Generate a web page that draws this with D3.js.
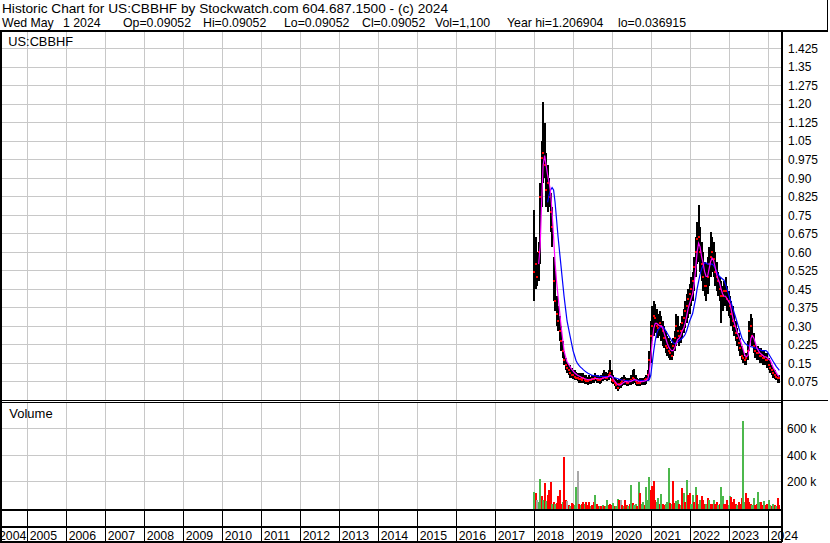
<!DOCTYPE html>
<html><head><meta charset="utf-8">
<script src="https://cdn.jsdelivr.net/npm/d3@7"></script>
<style>
html,body{margin:0;padding:0;background:#fff;}
svg{display:block;font-family:"Liberation Sans",Arial,sans-serif;}
text{white-space:pre;}
</style></head><body>
<svg id="c" width="830" height="543"></svg>
<script>
// ---------------- data ----------------
const symbol = "US:CBBHF";
const titleLine = "Historic Chart for US:CBBHF by Stockwatch.com 604.687.1500 - (c) 2024";
const infoParts = ["Wed May", "1 2024", "Op=0.09052", "Hi=0.09052", "Lo=0.09052", "Cl=0.09052", "Vol=1,100", "Year hi=1.206904", "lo=0.036915"];
const startDate = "2018-01-05";   // first bi-weekly sample
const stepDays = 14;
const high = [
 .77,.66,.60,.64,.88,1.05,1.207,1.12,1.00,.95,
 .90,.84,.78,.58,.54,.42,.38,.34,.30,.24,
 .20,.17,.15,.14,.14,.13,.12,.12,.115,.11,
 .11,.11,.10,.11,.10,.10,.095,.10,.095,.10,
 .10,.11,.10,.10,.095,.10,.11,.12,.115,.11,
 .12,.16,.12,.10,.09,.085,.08,.085,.09,.095,
 .10,.095,.09,.09,.09,.10,.12,.125,.10,.09,
 .085,.09,.09,.09,.095,.10,.12,.20,.32,.38,
 .40,.39,.37,.35,.36,.34,.32,.30,.28,.26,
 .25,.24,.23,.25,.28,.35,.34,.30,.31,.34,
 .37,.40,.43,.45,.47,.50,.52,.58,.66,.72,
 .79,.70,.64,.60,.56,.55,.58,.62,.68,.66,
 .64,.60,.56,.52,.50,.48,.46,.48,.50,.46,
 .44,.42,.40,.38,.35,.32,.29,.27,.25,.22,
 .20,.18,.19,.24,.32,.35,.33,.27,.23,.22,
 .22,.21,.21,.20,.20,.19,.19,.17,.16,.14,
 .13,.12,.11,.10,.10];
const low = [
 .40,.45,.46,.48,.55,.78,.88,.90,.78,.76,
 .78,.68,.62,.40,.36,.30,.28,.24,.20,.17,
 .14,.12,.11,.10,.09,.09,.085,.08,.08,.075,
 .07,.07,.07,.07,.065,.065,.06,.065,.065,.07,
 .07,.075,.07,.07,.065,.07,.075,.08,.08,.075,
 .08,.09,.07,.065,.055,.045,.037,.045,.05,.055,
 .06,.06,.055,.055,.06,.06,.065,.07,.06,.055,
 .055,.055,.06,.06,.06,.065,.075,.09,.15,.24,
 .26,.27,.25,.25,.26,.24,.22,.21,.19,.18,
 .17,.16,.16,.18,.20,.22,.24,.22,.23,.25,
 .27,.29,.31,.33,.35,.38,.40,.44,.50,.55,
 .56,.52,.48,.44,.42,.40,.43,.46,.50,.52,
 .50,.46,.44,.42,.40,.31,.36,.38,.38,.36,
 .34,.33,.30,.28,.26,.24,.22,.20,.18,.16,
 .15,.14,.14,.16,.20,.24,.22,.19,.17,.16,
 .16,.15,.15,.14,.14,.14,.13,.12,.11,.10,
 .09,.085,.08,.07,.07];
const close = [
 .52,.55,.50,.60,.82,.98,1.00,.95,.85,.88,
 .82,.76,.70,.48,.40,.35,.32,.28,.24,.20,
 .16,.14,.13,.12,.11,.10,.10,.095,.09,.09,
 .085,.085,.08,.09,.08,.075,.075,.08,.08,.085,
 .085,.09,.085,.08,.08,.085,.09,.095,.09,.09,
 .10,.11,.08,.075,.07,.06,.05,.065,.07,.075,
 .08,.075,.07,.07,.075,.08,.09,.085,.075,.07,
 .07,.07,.075,.075,.08,.085,.10,.16,.26,.30,
 .34,.33,.30,.29,.31,.30,.28,.25,.22,.21,
 .20,.19,.18,.22,.25,.30,.28,.26,.28,.31,
 .33,.36,.38,.41,.43,.45,.48,.54,.60,.65,
 .66,.60,.55,.50,.46,.46,.50,.55,.58,.60,
 .57,.52,.50,.48,.45,.42,.42,.44,.44,.41,
 .40,.38,.35,.32,.30,.27,.25,.23,.21,.18,
 .17,.16,.17,.20,.28,.30,.26,.22,.20,.19,
 .19,.18,.18,.17,.17,.16,.16,.14,.13,.12,
 .11,.10,.095,.09,.09];
const maShort = [
 null,null,null,.55,.62,.80,.95,.99,.95,.91,
 .88,.84,.76,.66,.555,.48,.42,.36,.30,.25,
 .20,.175,.155,.145,.135,.125,.118,.11,.105,.10,
 .097,.094,.09,.088,.086,.084,.082,.082,.083,.085,
 .086,.087,.087,.086,.085,.086,.088,.09,.092,.093,
 .096,.10,.095,.085,.075,.068,.062,.06,.062,.068,
 .072,.074,.074,.073,.074,.076,.08,.083,.082,.078,
 .075,.074,.074,.075,.077,.08,.085,.11,.17,.24,
 .29,.31,.31,.305,.30,.30,.29,.27,.25,.23,
 .215,.205,.20,.20,.21,.23,.245,.25,.26,.28,
 .29,.31,.34,.37,.39,.41,.43,.47,.53,.60,
 .635,.62,.58,.555,.52,.50,.50,.53,.56,.575,
 .565,.54,.51,.49,.475,.45,.43,.42,.42,.41,
 .40,.39,.36,.33,.31,.29,.27,.255,.24,.22,
 .20,.18,.175,.18,.21,.25,.26,.25,.23,.21,
 .20,.19,.185,.18,.175,.175,.17,.165,.16,.145,
 .13,.12,.11,.10,.095];
const maLong = [
 null,null,null,null,null,null,null,null,null,.80,
 .83,.85,.86,.85,.80,.73,.66,.60,.54,.48,
 .42,.37,.32,.29,.26,.23,.20,.18,.16,.148,
 .14,.133,.128,.122,.117,.112,.108,.105,.102,.10,
 .099,.098,.097,.097,.096,.096,.095,.095,.095,.095,
 .095,.095,.094,.092,.09,.088,.086,.084,.082,.081,
 .08,.079,.078,.078,.078,.078,.079,.08,.08,.08,
 .08,.08,.079,.078,.078,.078,.079,.082,.10,.15,
 .20,.24,.27,.285,.293,.297,.297,.29,.28,.27,
 .26,.25,.24,.232,.228,.23,.235,.24,.245,.25,
 .257,.265,.28,.30,.32,.335,.35,.38,.41,.45,
 .48,.51,.53,.545,.555,.555,.55,.55,.55,.55,
 .545,.535,.52,.51,.50,.495,.49,.485,.47,.45,
 .43,.41,.39,.37,.35,.33,.31,.29,.27,.25,
 .24,.23,.225,.22,.218,.216,.215,.212,.21,.21,
 .205,.205,.20,.20,.20,.20,.195,.185,.175,.165,
 .155,.145,.135,.128,.12];
const volume = [ // shares, thousands
 120,107,60,40,213,90,60,183,50,95,
 133,195,30,44,25,35,87,133,30,42,
 385,57,46,20,15,36,30,20,158,276,
 30,19,25,45,30,45,20,45,15,20,
 40,95,25,15,10,15,20,10,15,57,
 20,25,20,36,15,10,63,57,57,20,
 15,57,20,15,30,170,35,20,25,15,
 195,107,30,40,20,158,60,233,130,163,
 203,57,40,75,30,102,25,20,30,40,
 301,35,25,203,35,50,58,30,20,150,
 107,40,208,95,110,30,95,40,158,95,
 30,57,87,60,30,25,70,60,30,25,
 58,30,40,20,30,158,87,30,25,60,
 20,87,80,40,65,30,20,40,25,70,
 658,45,107,70,40,30,20,70,20,30,
 115,40,45,20,50,20,25,55,20,15,
 25,20,15,70,20];
const volChange = [ // +1 up, -1 down, 0 unchanged
 1,-1,0,1,1,-1,1,-1,1,-1,
 -1,-1,1,-1,1,-1,-1,-1,-1,1,
 -1,-1,0,-1,1,-1,-1,1,1,0,
 -1,1,-1,-1,1,-1,-1,-1,1,-1,
 -1,1,-1,-1,1,-1,1,-1,1,1,
 -1,-1,-1,1,-1,1,1,-1,0,-1,
 1,-1,-1,1,-1,1,-1,1,1,-1,
 1,-1,1,1,-1,1,1,1,-1,-1,
 -1,-1,1,1,-1,1,-1,-1,1,1,
 1,-1,1,-1,-1,1,1,-1,1,-1,
 1,-1,1,-1,-1,1,1,-1,1,-1,
 1,1,-1,-1,-1,1,-1,1,-1,-1,
 1,-1,-1,1,-1,1,1,-1,-1,-1,
 1,1,-1,-1,-1,-1,1,-1,-1,-1,
 1,1,-1,-1,-1,-1,1,1,-1,-1,
 1,1,-1,-1,1,-1,-1,1,1,-1,
 1,-1,1,-1,-1];
const yearLabels = ["2004","2005","2006","2007","2008","2009","2010","2011","2012","2013","2014","2015","2016","2017","2018","2019","2020","2021","2022","2023","2024"];
const priceTicks = [0.075,0.15,0.225,0.30,0.375,0.45,0.525,0.60,0.675,0.75,0.825,0.90,0.975,1.05,1.125,1.20,1.275,1.35,1.425];
const priceTickLabels = ["0.075","0.15","0.225","0.30","0.375","0.45","0.525","0.60","0.675","0.75","0.825","0.90","0.975","1.05","1.125","1.20","1.275","1.35","1.425"];
const volTicks = [200000,400000,600000];
const volTickLabels = ["200 k","400 k","600 k"];

// ---------------- layout ----------------
const svg = d3.select("#c");
const L = 2, R = 782, priceTop = 31, priceBot = 400, volTop = 402, volBase = 507.5, volBot = 509.5;
const axRow1 = 527, axBot = 542;
const parse = d3.timeParse("%Y-%m-%d");
const t0 = parse(startDate);
const dates = close.map((_, i) => d3.timeDay.offset(t0, i * stepDays));

const x = d3.scaleTime().domain([new Date(2005,0,1), new Date(2024,0,1)]).range([26.7, 767.7]);
const y = d3.scaleLinear().domain([0, (priceBot - priceTop) / 247]).range([priceBot, priceTop]);
const yv = d3.scaleLinear().domain([0, 800000]).range([volBase, volBase - 4 * 26.4]);

const gridC = "#c8c8c8";
const yearDates = yearLabels.map(s => new Date(+s, 0, 1));

// fit text: width as if size wSize, glyph height of size hSize
function fit(sel, wSize, hSize) {
  sel.each(function() {
    const t = d3.select(this);
    t.attr("font-size", wSize);
    const w = this.getComputedTextLength();
    t.attr("font-size", hSize).attr("textLength", w).attr("lengthAdjust", "spacingAndGlyphs");
  });
}

// grids
const gP = svg.append("g").attr("shape-rendering", "crispEdges");
gP.selectAll("line.hy").data(priceTicks).join("line")
  .attr("x1", L).attr("x2", R).attr("y1", d => Math.round(y(d)) + 0.5).attr("y2", d => Math.round(y(d)) + 0.5)
  .attr("stroke", gridC);
gP.selectAll("line.vx").data(yearDates.filter(d => x(d) > L)).join("line")
  .attr("x1", d => Math.round(x(d)) + 0.5).attr("x2", d => Math.round(x(d)) + 0.5)
  .attr("y1", priceTop).attr("y2", priceBot).attr("stroke", gridC);
const gV = svg.append("g").attr("shape-rendering", "crispEdges");
gV.selectAll("line.hy").data(volTicks).join("line")
  .attr("x1", L).attr("x2", R).attr("y1", d => Math.round(yv(d)) + 0.5).attr("y2", d => Math.round(yv(d)) + 0.5)
  .attr("stroke", gridC);
gV.selectAll("line.vx").data(yearDates.filter(d => x(d) > L)).join("line")
  .attr("x1", d => Math.round(x(d)) + 0.5).attr("x2", d => Math.round(x(d)) + 0.5)
  .attr("y1", volTop).attr("y2", volBot).attr("stroke", gridC);

// price bars
const bars = svg.append("g").attr("shape-rendering", "crispEdges");
bars.selectAll("rect").data(dates).join("rect")
  .attr("x", d => Math.round(x(d)) - 1).attr("width", 2)
  .attr("y", (d, i) => y(high[i])).attr("height", (d, i) => Math.max(1, y(low[i]) - y(high[i])))
  .attr("fill", "#000");
const closes = svg.append("g").attr("shape-rendering", "crispEdges");
closes.selectAll("rect").data(dates).join("rect")
  .attr("x", d => Math.round(x(d)) - 1).attr("width", 2)
  .attr("y", (d, i) => Math.round(y(close[i])) - 1).attr("height", 2)
  .attr("fill", "#ff0000");

const lineGen = arr => d3.line().defined((d, i) => arr[i] != null).x(d => x(d)).y((d, i) => y(arr[i]));
svg.append("path").attr("d", lineGen(maLong)(dates)).attr("fill", "none").attr("stroke", "#0000ff").attr("stroke-width", 1.2);
svg.append("path").attr("d", lineGen(maShort)(dates)).attr("fill", "none").attr("stroke", "#ff00ff").attr("stroke-width", 1.2);

// volume bars
const vcol = c => c > 0 ? "#4cb84c" : (c < 0 ? "#ff0000" : "#a8a8a8");
svg.append("g").attr("shape-rendering", "crispEdges").selectAll("rect").data(dates).join("rect")
  .attr("x", d => Math.round(x(d)) - 1).attr("width", 2)
  .attr("y", (d, i) => yv(volume[i] * 1000)).attr("height", (d, i) => volBot - yv(volume[i] * 1000))
  .attr("fill", (d, i) => vcol(volChange[i]));

// frame lines
const fr = svg.append("g").attr("shape-rendering", "crispEdges");
const rectF = (x0, y0, w, h) => fr.append("rect").attr("x", x0).attr("y", y0).attr("width", w).attr("height", h).attr("fill", "#000");
rectF(0, 30, 828, 2);          // header bottom
rectF(827, 0, 1, 32);          // header right
rectF(0, 30, 2, 512);          // left border
rectF(781, 30, 2, 512);        // right axis separator
rectF(0, 400, 828, 1);         // price bottom
rectF(0, 402, 782, 1);         // volume top
rectF(0, 508.5, 782, 2);       // volume bottom
rectF(0, 526, 782, 2);         // axis row line
rectF(0, 541, 782, 2);         // bottom
// year separators in axis rows
fr.selectAll("line.ys").data(yearDates.filter(d => x(d) > L)).join("line")
  .attr("x1", d => Math.round(x(d)) + 0.5).attr("x2", d => Math.round(x(d)) + 0.5)
  .attr("y1", 510).attr("y2", 542).attr("stroke", "#000");

// year labels
const yl = svg.append("g").selectAll("text").data(yearLabels).join("text")
  .attr("x", (d, i) => Math.max(-1, x(yearDates[i]) + 3)).attr("y", 539.5)
  .attr("fill", "#000").text(d => d);
fit(yl, 12.3, 13.5);

// right axis labels
const pl = svg.append("g").selectAll("text").data(priceTicks).join("text")
  .attr("x", 788).attr("y", d => y(d) + 4.8).attr("fill", "#000")
  .text((d, i) => priceTickLabels[i]);
fit(pl, 12, 13.5);
const vl = svg.append("g").selectAll("text").data(volTicks).join("text")
  .attr("x", 787).attr("y", d => yv(d) + 4.8).attr("fill", "#000")
  .text((d, i) => volTickLabels[i]);
fit(vl, 12, 13.5);

// header
svg.append("text").attr("x", 2).attr("y", 13.3).attr("font-size", 13).attr("textLength", 446)
  .attr("lengthAdjust", "spacingAndGlyphs").text(titleLine);
const infoX = [2, 63, 123, 203, 284, 362, 435, 507, 618];
const il = svg.append("g").selectAll("text").data(infoParts).join("text")
  .attr("x", (d, i) => infoX[i]).attr("y", 27.3).text(d => d);
fit(il, 12.3, 13);
const st = svg.append("text").attr("x", 8.3).attr("y", 45.7).text(symbol);
fit(st, 12.8, 13);
const vt = svg.append("text").attr("x", 9.3).attr("y", 418.3).text("Volume");
fit(vt, 13, 13.5);
</script>
</body></html>
